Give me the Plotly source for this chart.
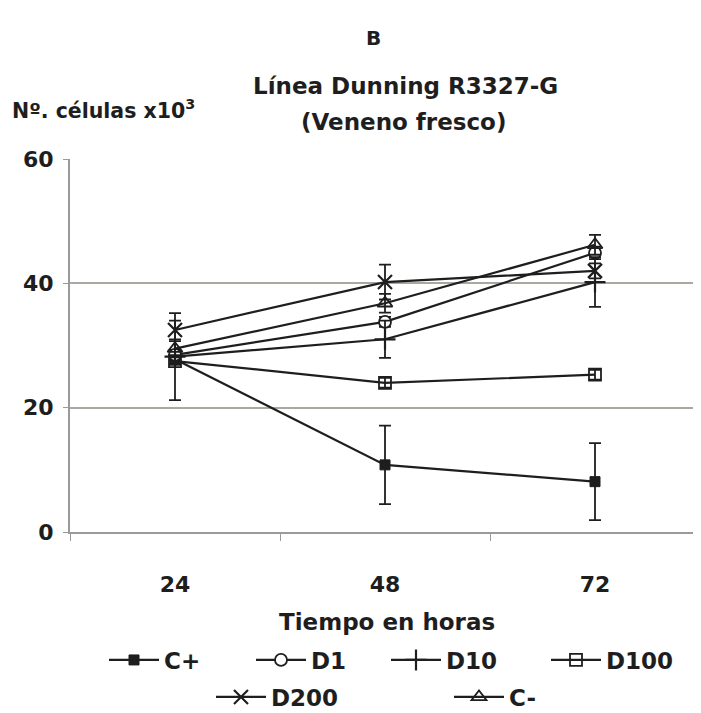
import plotly.graph_objects as go

hours = ["24", "48", "72"]
series_names = ["C+", "D1", "D10", "D100", "D200", "C-"]
c_pos = [27.8, 10.8, 8.1]
c_pos_err = [0.8, 6.3, 6.2]
d1 = [28.5, 33.8, 44.9]
d1_err = [0.8, 0.8, 1.0]
d10 = [28.2, 31.0, 40.2]
d10_err = [7.0, 3.0, 4.0]
d100 = [27.5, 24.0, 25.3]
d100_err = [0.6, 0.8, 0.8]
d200 = [32.5, 40.2, 42.0]
d200_err = [1.5, 2.8, 1.2]
c_neg = [29.5, 36.8, 46.2]
c_neg_err = [1.2, 1.5, 1.6]
y_ticks = [0, 20, 40, 60]

values = [c_pos, d1, d10, d100, d200, c_neg]
errors = [c_pos_err, d1_err, d10_err, d100_err, d200_err, c_neg_err]

FONT = "DejaVu Sans"
INK = "#1e1e1e"

markers = [
    dict(symbol="square", size=10, color=INK, line=dict(color=INK, width=1)),
    dict(symbol="circle", size=12, color="white", line=dict(color=INK, width=1.8)),
    dict(symbol="cross-thin", size=15, color=INK, line=dict(color=INK, width=2.2)),
    dict(symbol="square-open", size=12, color=INK, line=dict(color=INK, width=1.8)),
    dict(symbol="x-thin", size=14, color=INK, line=dict(color=INK, width=2.2)),
    dict(symbol="triangle-up-open", size=13, color=INK, line=dict(color=INK, width=1.8)),
]

# page offset: the figure sits 8px from the page corner
OFF = 8
W, H = 693, 705
L, R, T, B = 62, 1, 151, 181
pw, ph = W - L - R, H - T - B

def px_x(p):
    return (p - OFF - L) / pw

def px_y(p):
    return (H - B - (p - OFF)) / ph

legend_pos = [(104, 660), (251, 660), (386, 660), (546, 660), (211, 697), (449, 697)]

fig = go.Figure()
for i, (name, v, e) in enumerate(zip(series_names, values, errors)):
    lname = "legend" if i == 0 else f"legend{i+1}"
    fig.add_trace(go.Scatter(
        x=hours, y=v, name=name, mode="lines+markers",
        line=dict(color=INK, width=2.2),
        marker=markers[i],
        error_y=dict(type="data", array=e, visible=True, color=INK, thickness=1.8, width=6),
        legend=lname,
    ))

layout_legends = {}
for i, (lx, ly) in enumerate(legend_pos):
    lname = "legend" if i == 0 else f"legend{i+1}"
    layout_legends[lname] = dict(
        x=px_x(lx), y=px_y(ly), xanchor="left", yanchor="middle",
        orientation="h", bgcolor="rgba(0,0,0,0)", borderwidth=0,
        font=dict(family=FONT, size=23, color=INK, weight="bold"), itemwidth=50,
    )

fig.update_layout(
    width=W, height=H,
    margin=dict(l=L, r=R, t=T, b=B, autoexpand=False),
    paper_bgcolor="white", plot_bgcolor="white",
    font=dict(family=FONT, size=22, color=INK),
    showlegend=True,
    **layout_legends,
)

fig.update_xaxes(
    type="category", categoryorder="array", categoryarray=hours,
    range=[-0.5, 2.5], showgrid=False, showline=True, linecolor="#9a9a9a", linewidth=2,
    ticks="outside", tickson="boundaries", ticklen=7, tickcolor="#9a9a9a", tickwidth=1,
    tickfont=dict(family=FONT, size=22, color=INK, weight="bold"), ticklabelstandoff=32,
    zeroline=False, automargin=False,
)
fig.update_yaxes(
    range=[0, 60], tickvals=y_ticks, showgrid=True, gridcolor="#a9a9a2", gridwidth=2,
    showline=True, linecolor="#9a9a9a", linewidth=2,
    ticks="outside", ticklen=5, tickcolor="#9a9a9a",
    tickfont=dict(family=FONT, size=22, color=INK, weight="bold"), ticklabelstandoff=5,
    zeroline=False, automargin=False,
)

annotations = [
    ("B", 373, 38, 20, "center"),
    ("Línea Dunning R3327-G", 405, 86, 23, "center"),
    ("(Veneno fresco)", 403, 122, 23, "center"),
    ("Nº. células x10<sup>3</sup>", 10, 110, 20.5, "left"),
    ("Tiempo en horas", 387, 622, 23, "center"),
]
for text, ax, ay, size, anchor in annotations:
    fig.add_annotation(
        text=text, xref="paper", yref="paper", x=px_x(ax), y=px_y(ay),
        xanchor=anchor, yanchor="middle", showarrow=False,
        font=dict(family=FONT, size=size, color=INK, weight="bold"),
    )

fig.write_html("out.html")
